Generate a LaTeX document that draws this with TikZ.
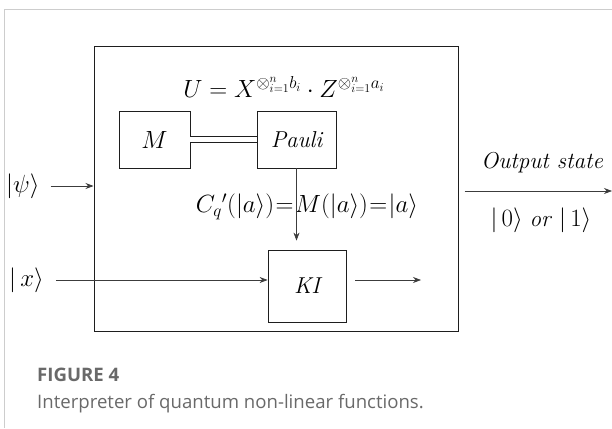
\documentclass[tikz,border=0pt]{standalone}
\usepackage{fontspec}
\newfontfamily\capfont{Open Sans}
\usetikzlibrary{positioning,arrows.meta,calc}
\definecolor{qdark}{RGB}{30,30,30}
\definecolor{qline}{RGB}{60,60,60}
\definecolor{qframe}{RGB}{205,205,205}
\definecolor{qcap}{RGB}{105,105,105}
\tikzset{
  blk/.style={draw=qdark, line width=0.8pt, inner sep=0pt,
              font=\fontsize{23}{27}\selectfont\itshape},
  eqn/.style={inner sep=0pt, font=\fontsize{23}{27}\selectfont},
  arr/.style={draw=qline, line width=0.7pt, -{Stealth[length=8pt,width=6pt]}},
  captxt/.style={anchor=west, inner sep=0pt, text=qcap,
              font=\capfont\fontsize{18.6}{22}\selectfont},
}

\begin{document}
\begin{tikzpicture}[x=1pt,y=1pt]
\useasboundingbox (0,0) rectangle (612,-428);
\draw[qframe, line width=0.8pt] (612,-9.5) -- (4.5,-9.5) -- (4.5,-428);
% interpreter frame and its blocks
\node[draw=qdark, line width=1pt, inner sep=0pt,
      minimum width=364pt, minimum height=284pt] (outer) at (276,-189) {};
\node[blk, minimum width=71pt, minimum height=57pt] (m) at (154.5,-139.5) {$M$};
\node[blk, minimum width=79pt, minimum height=57pt] (pauli) at (296.5,-139.5) {Pauli};
\node[blk, minimum width=78pt, minimum height=72pt] (ki) at (307,-286) {KI};
\node[eqn] (ueq) at (284,-87)
  {$U = X^{\otimes_{i=1}^{n} b_i}\cdot Z^{\otimes_{i=1}^{n} a_i}$};
\node[eqn] (ceq) at (307,-207)
  {$\thickmuskip=1mu C_q{}'(|a\rangle)=M(|a\rangle)=|a\rangle$};
% inputs and output
\node[eqn, anchor=west] (psi) at (6,-186) {$|\psi\rangle$};
\node[eqn, anchor=west] (xin) at (9,-280) {$|\,x\rangle$};
\node[eqn, font=\fontsize{23}{27}\selectfont\itshape] (otext) at (542,-163) {Output state};
\node[eqn] (ostate) at (541,-220) {$|\,0\rangle$ \textit{or} $|\,1\rangle$};
\coordinate (kiout) at (421,-280);
\coordinate (sink) at (612,-191);
\draw[qdark, line width=0.7pt, double, double distance=5pt] (m.east) -- (pauli.west);
\draw[arr] ([xshift=11pt]psi.east) -- (psi.east -| outer.west);
\draw[arr] ([xshift=12pt]xin.east) -- (xin.east -| ki.west);
\draw[arr, shorten >=9pt] (pauli.south) -- (pauli.south |- ki.north);
\draw[arr] ($(ki.east |- kiout)+(9,0)$) -- (kiout);
\draw[arr] ($(outer.east |- sink)+(6,0)$) -- (sink);
% caption
\node[captxt, font=\capfont\bfseries\fontsize{18.6}{22}\selectfont] (figno) at (37,-375) {FIGURE 4};
\node[captxt] (figtxt) at (37,-404) {Interpreter of quantum non-linear functions.};
\end{tikzpicture}
\end{document}
